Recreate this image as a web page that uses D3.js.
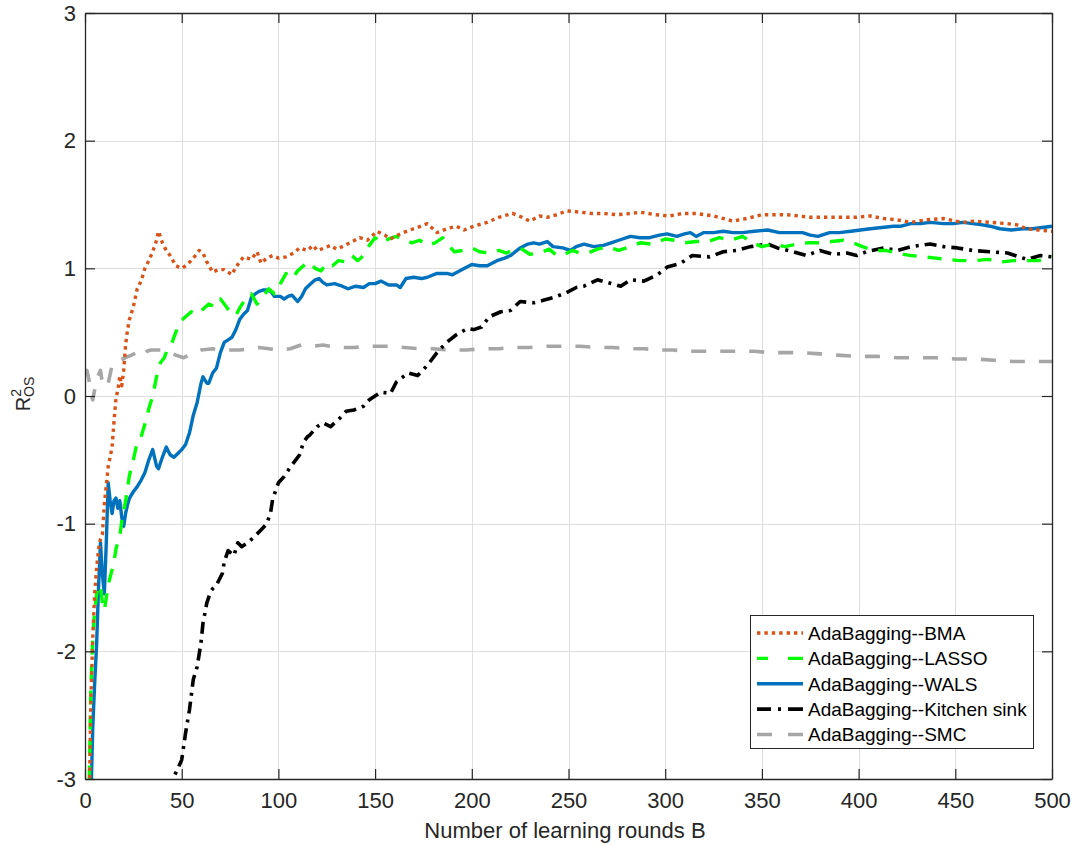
<!DOCTYPE html>
<html>
<head>
<meta charset="utf-8">
<script src="https://cdn.jsdelivr.net/npm/d3@7"></script>
<style>
  html, body { margin: 0; padding: 0; background: #fff; }
  svg { display: block; font-family: "Liberation Sans", Arial, Helvetica, sans-serif; }
</style>
</head>
<body>
<svg id="chart" width="1071" height="845"></svg>
<script>
// Out-of-sample R^2 against the number of learning rounds B, one series per method.
// Each entry is [B, R2_OS].
const bmaSeries = [[2,-3.4],[3,-2.4],[4,-1.9],[5,-1.55],[6,-1.35],[7,-1.2],[8,-1.12],[9,-1.08],[10,-0.85],[11,-0.7],[12,-0.55],[13,-0.48],[14,-0.4],[15,-0.2],[16,-0.02],[17,0.05],[18,0.16],[19,0.08],[20,0.2],[21,0.4],[22,0.52],[23,0.6],[25,0.7],[27,0.84],[29,0.9],[31,1.0],[33,1.06],[35,1.13],[37,1.22],[38,1.29],[40,1.2],[42,1.14],[44,1.1],[47,1.02],[50,1.0],[53,1.03],[56,1.08],[59,1.14],[61,1.12],[63,1.05],[66,0.97],[69,0.99],[72,0.99],[76,0.95],[78,1.01],[82,1.09],[86,1.07],[89,1.13],[91,1.04],[94,1.08],[97,1.1],[100,1.08],[104,1.09],[108,1.12],[111,1.16],[115,1.14],[118,1.18],[120,1.14],[124,1.16],[127,1.18],[130,1.15],[133,1.17],[137,1.2],[142,1.24],[146,1.22],[151,1.29],[155,1.26],[158,1.23],[163,1.27],[168,1.3],[172,1.32],[177,1.35],[182,1.28],[187,1.31],[192,1.33],[196,1.3],[201,1.33],[208,1.36],[214,1.4],[221,1.43],[226,1.4],[230,1.37],[235,1.41],[239,1.4],[244,1.42],[249,1.45],[256,1.44],[262,1.43],[268,1.43],[275,1.42],[283,1.43],[287,1.44],[295,1.42],[302,1.41],[309,1.43],[316,1.43],[325,1.41],[335,1.37],[342,1.39],[350,1.42],[357,1.42],[363,1.42],[369,1.41],[375,1.4],[382,1.4],[390,1.4],[399,1.4],[406,1.41],[413,1.39],[420,1.38],[427,1.36],[435,1.38],[444,1.39],[450,1.37],[454,1.36],[460,1.37],[468,1.36],[477,1.35],[482,1.34],[487,1.31],[493,1.3],[500,1.29]];

const lassoSeries = [[2,-3.2],[3,-2.3],[4,-1.9],[5,-1.68],[6,-1.55],[7,-1.48],[8,-1.5],[9,-1.62],[10,-1.68],[11,-1.58],[12,-1.48],[13,-1.42],[14,-1.36],[15,-1.3],[16,-1.2],[17,-1.14],[18,-1.1],[19,-0.98],[20,-0.9],[21,-0.82],[22,-0.72],[23,-0.62],[25,-0.5],[27,-0.36],[29,-0.32],[31,-0.22],[33,-0.1],[35,0.0],[37,0.15],[39,0.26],[41,0.3],[43,0.38],[45,0.42],[47,0.5],[49,0.58],[52,0.62],[55,0.66],[58,0.64],[61,0.68],[64,0.72],[67,0.7],[70,0.76],[72,0.72],[75,0.66],[78,0.63],[80,0.69],[83,0.76],[86,0.8],[89,0.72],[92,0.78],[95,0.84],[98,0.8],[101,0.88],[104,0.96],[107,0.92],[110,0.98],[113,1.02],[116,1.05],[119,1.0],[122,0.98],[125,1.04],[128,1.02],[131,1.06],[135,1.05],[138,1.1],[141,1.06],[144,1.1],[147,1.18],[150,1.24],[153,1.2],[157,1.23],[161,1.25],[165,1.22],[169,1.2],[173,1.22],[177,1.18],[181,1.2],[185,1.24],[188,1.18],[191,1.13],[195,1.14],[200,1.16],[204,1.13],[209,1.12],[214,1.14],[218,1.12],[222,1.15],[226,1.15],[230,1.11],[235,1.12],[240,1.15],[244,1.1],[248,1.11],[252,1.14],[256,1.12],[260,1.12],[265,1.15],[270,1.17],[276,1.14],[282,1.17],[287,1.2],[293,1.19],[300,1.23],[305,1.22],[310,1.2],[316,1.21],[322,1.21],[328,1.24],[334,1.22],[340,1.25],[345,1.2],[350,1.17],[356,1.19],[362,1.17],[368,1.19],[374,1.2],[380,1.2],[386,1.21],[392,1.22],[397,1.2],[402,1.17],[408,1.14],[414,1.14],[420,1.12],[427,1.1],[434,1.09],[440,1.08],[446,1.07],[452,1.06],[460,1.06],[467,1.07],[474,1.05],[480,1.06],[487,1.06],[493,1.06],[500,1.09]];

const walsSeries = [[3,-3.2],[4,-2.6],[5,-2.25],[6,-1.95],[7,-1.5],[8,-1.15],[9,-1.4],[10,-1.55],[11,-1.15],[12,-0.68],[13,-0.82],[14,-0.92],[15,-0.82],[16,-0.8],[17,-0.88],[18,-0.82],[19,-0.95],[20,-1.02],[21,-0.92],[22,-0.85],[23,-0.8],[25,-0.75],[27,-0.71],[29,-0.66],[31,-0.6],[33,-0.5],[35,-0.42],[37,-0.55],[38,-0.57],[40,-0.48],[42,-0.4],[44,-0.46],[46,-0.48],[48,-0.45],[50,-0.42],[52,-0.38],[54,-0.29],[56,-0.15],[58,-0.05],[60,0.1],[61,0.15],[63,0.1],[64,0.1],[66,0.18],[68,0.22],[70,0.34],[72,0.42],[74,0.44],[76,0.46],[78,0.52],[80,0.6],[82,0.64],[84,0.67],[86,0.77],[88,0.8],[90,0.82],[92,0.83],[94,0.83],[96,0.82],[98,0.78],[101,0.78],[103,0.76],[105,0.78],[107,0.79],[110,0.74],[112,0.78],[114,0.84],[116,0.87],[119,0.91],[121,0.92],[123,0.89],[125,0.87],[129,0.88],[133,0.86],[136,0.84],[140,0.86],[144,0.85],[147,0.88],[150,0.88],[153,0.9],[157,0.87],[161,0.87],[163,0.85],[166,0.92],[170,0.93],[174,0.92],[177,0.93],[182,0.96],[187,0.96],[190,0.95],[195,0.99],[200,1.03],[204,1.02],[208,1.02],[213,1.06],[217,1.08],[220,1.1],[225,1.16],[229,1.19],[232,1.2],[235,1.19],[239,1.21],[242,1.17],[247,1.16],[251,1.14],[254,1.17],[258,1.19],[263,1.17],[268,1.18],[272,1.2],[276,1.22],[282,1.25],[287,1.24],[292,1.24],[297,1.26],[301,1.27],[306,1.25],[310,1.27],[313,1.28],[316,1.25],[320,1.28],[325,1.28],[330,1.29],[335,1.28],[340,1.28],[346,1.29],[353,1.3],[359,1.28],[365,1.28],[371,1.28],[375,1.26],[379,1.25],[385,1.28],[390,1.28],[396,1.29],[401,1.3],[406,1.31],[412,1.32],[418,1.33],[422,1.33],[427,1.35],[432,1.35],[437,1.36],[444,1.35],[449,1.35],[454,1.36],[459,1.35],[464,1.34],[468,1.33],[473,1.31],[479,1.3],[485,1.31],[490,1.31],[495,1.32],[500,1.33]];

const kitchenSinkSeries = [[44,-3.1],[46,-2.98],[47,-2.95],[48,-2.92],[50,-2.85],[52,-2.64],[54,-2.46],[56,-2.22],[58,-2.12],[60,-1.93],[61,-1.78],[63,-1.62],[65,-1.53],[66,-1.51],[68,-1.48],[71,-1.39],[72,-1.3],[74,-1.21],[77,-1.25],[79,-1.15],[81,-1.18],[84,-1.15],[87,-1.11],[91,-1.05],[94,-1.0],[96,-0.91],[97,-0.81],[100,-0.68],[103,-0.63],[106,-0.56],[109,-0.5],[111,-0.46],[113,-0.36],[115,-0.32],[116,-0.31],[120,-0.24],[123,-0.21],[127,-0.24],[132,-0.17],[135,-0.12],[139,-0.11],[144,-0.08],[147,-0.03],[153,0.03],[158,0.02],[161,0.11],[167,0.18],[172,0.16],[177,0.24],[182,0.34],[187,0.42],[192,0.48],[198,0.53],[201,0.52],[205,0.54],[209,0.62],[215,0.66],[220,0.67],[225,0.74],[232,0.73],[237,0.75],[242,0.77],[249,0.81],[254,0.85],[258,0.86],[265,0.91],[270,0.89],[277,0.86],[282,0.91],[289,0.9],[296,0.95],[301,1.01],[308,1.04],[314,1.1],[323,1.09],[330,1.13],[337,1.14],[344,1.17],[353,1.19],[358,1.16],[366,1.13],[373,1.1],[380,1.14],[387,1.11],[394,1.12],[399,1.1],[404,1.13],[413,1.16],[420,1.14],[427,1.17],[437,1.19],[444,1.17],[451,1.16],[459,1.14],[468,1.13],[477,1.12],[487,1.07],[494,1.1],[500,1.09]];

const smcSeries = [[0,0.18],[1,0.2],[2,0.13],[3,0.02],[4,-0.03],[5,0.05],[6,0.13],[8,0.2],[9,0.1],[10,0.07],[12,0.1],[14,0.24],[16,0.27],[18,0.28],[21,0.3],[24,0.32],[27,0.34],[29,0.31],[32,0.35],[34,0.36],[37,0.36],[40,0.36],[44,0.34],[47,0.32],[51,0.3],[55,0.33],[60,0.36],[66,0.37],[70,0.36],[75,0.36],[80,0.36],[85,0.37],[90,0.38],[95,0.37],[100,0.36],[106,0.37],[112,0.4],[118,0.39],[123,0.4],[130,0.38],[139,0.38],[148,0.39],[156,0.39],[165,0.38],[173,0.37],[180,0.37],[189,0.36],[197,0.36],[206,0.37],[214,0.37],[221,0.38],[230,0.38],[239,0.39],[248,0.39],[256,0.39],[265,0.38],[273,0.38],[281,0.37],[289,0.37],[297,0.36],[304,0.36],[313,0.35],[322,0.35],[330,0.35],[337,0.35],[346,0.35],[354,0.34],[362,0.34],[371,0.34],[380,0.33],[389,0.32],[400,0.31],[410,0.31],[420,0.3],[430,0.3],[440,0.3],[450,0.29],[460,0.29],[470,0.28],[480,0.27],[490,0.27],[500,0.27]];

const seriesNames = ["AdaBagging--BMA", "AdaBagging--LASSO", "AdaBagging--WALS", "AdaBagging--Kitchen sink", "AdaBagging--SMC"];
const xTicks = [0, 50, 100, 150, 200, 250, 300, 350, 400, 450, 500];
const yTicks = [-3, -2, -1, 0, 1, 2, 3];

// Drawing styles, in legend order.
const styles = [
  { data: bmaSeries,         color: "#D95319", width: 3.4, dash: "3.4,4",        legendDash: "3.4,4" },
  { data: lassoSeries,       color: "#00FF00", width: 3.4, dash: "14,11",        legendDash: "11,20,15" },
  { data: walsSeries,        color: "#0072BD", width: 3.4, dash: null,           legendDash: null },
  { data: kitchenSinkSeries, color: "#000000", width: 3.6, dash: "12,6,3,6",     legendDash: "14,7,3,7,15" },
  { data: smcSeries,         color: "#A6A6A6", width: 3.6, dash: "15,14",        legendDash: "15,16,15" }
];

const plot = { left: 85, right: 1052, top: 13, bottom: 779 };
const ink = "#262626";
const fontFamily = "'Liberation Sans', Arial, Helvetica, sans-serif";

const svg = d3.select("#chart");
const x = d3.scaleLinear().domain([0, 500]).range([plot.left, plot.right]);
const y = d3.scaleLinear().domain([-3, 3]).range([plot.bottom, plot.top]);

// Grid
const grid = svg.append("g").attr("stroke", "#dedede").attr("stroke-width", 1);
grid.selectAll("line.gx").data(xTicks.slice(1, -1)).join("line")
  .attr("x1", d => Math.round(x(d)) + 0.5).attr("x2", d => Math.round(x(d)) + 0.5)
  .attr("y1", plot.top).attr("y2", plot.bottom);
grid.selectAll("line.gy").data(yTicks.slice(1, -1)).join("line")
  .attr("y1", d => Math.round(y(d)) + 0.5).attr("y2", d => Math.round(y(d)) + 0.5)
  .attr("x1", plot.left).attr("x2", plot.right);

// Series, clipped to the axes box
svg.append("clipPath").attr("id", "plotClip").append("rect")
  .attr("x", plot.left).attr("y", plot.top)
  .attr("width", plot.right - plot.left).attr("height", plot.bottom - plot.top);

const line = d3.line().x(d => x(d[0])).y(d => y(d[1]));
const seriesG = svg.append("g").attr("clip-path", "url(#plotClip)");
[4, 3, 2, 1, 0].forEach(i => {
  const s = styles[i];
  seriesG.append("path")
    .datum(s.data)
    .attr("fill", "none")
    .attr("stroke", s.color)
    .attr("stroke-width", s.width)
    .attr("stroke-linejoin", "round")
    .attr("stroke-dasharray", s.dash)
    .attr("d", line);
});

// Axes: ticks point inward, box closed on all four sides
const fontSize = 22;
const fmt = d => (d < 0 ? "-" + (-d) : String(d));
const xAxisBottom = d3.axisBottom(x).tickValues(xTicks).tickSizeInner(-10).tickSizeOuter(0).tickPadding(13).tickFormat(fmt);
const xAxisTop = d3.axisTop(x).tickValues(xTicks).tickSizeInner(-10).tickSizeOuter(0).tickFormat("");
const yAxisLeft = d3.axisLeft(y).tickValues(yTicks).tickSizeInner(-10).tickSizeOuter(0).tickPadding(9).tickFormat(fmt);
const yAxisRight = d3.axisRight(y).tickValues(yTicks).tickSizeInner(-10).tickSizeOuter(0).tickFormat("");

function styleAxis(g) {
  g.select(".domain").attr("stroke", ink).attr("stroke-width", 1.3);
  g.selectAll(".tick line").attr("stroke", ink).attr("stroke-width", 1.2);
  g.selectAll(".tick text").attr("fill", ink).attr("font-size", fontSize)
    .attr("font-family", fontFamily);
}

svg.append("g").attr("transform", `translate(0,${plot.bottom})`).call(xAxisBottom).call(styleAxis);
svg.append("g").attr("transform", `translate(0,${plot.top})`).call(xAxisTop).call(styleAxis);
svg.append("g").attr("transform", `translate(${plot.left},0)`).call(yAxisLeft).call(styleAxis);
svg.append("g").attr("transform", `translate(${plot.right},0)`).call(yAxisRight).call(styleAxis);

// Axis titles
svg.append("text")
  .attr("x", 565).attr("y", 838)
  .attr("text-anchor", "middle").attr("font-size", 22).attr("fill", ink)
  .text("Number of learning rounds B");

const yTitle = svg.append("text")
  .attr("transform", "translate(30,394) rotate(-90)")
  .attr("text-anchor", "middle").attr("fill", ink).attr("font-size", 20);
yTitle.append("tspan").text("R");
yTitle.append("tspan").attr("font-size", 14).attr("dy", -9).text("2");
yTitle.append("tspan").attr("font-size", 14).attr("dx", -8).attr("dy", 13).text("OS");

// Legend
const legend = { left: 750, top: 615, width: 283, height: 133 };
const lg = svg.append("g");
lg.append("rect")
  .attr("x", legend.left + 0.5).attr("y", legend.top + 0.5)
  .attr("width", legend.width).attr("height", legend.height)
  .attr("fill", "#fff").attr("stroke", ink).attr("stroke-width", 1);
const rowY = d3.scaleLinear().domain([0, 4]).range([633, 734.5]);
styles.forEach((s, i) => {
  const yy = rowY(i);
  lg.append("line")
    .attr("x1", 757).attr("x2", 803).attr("y1", yy).attr("y2", yy)
    .attr("stroke", s.color).attr("stroke-width", s.width)
    .attr("stroke-dasharray", s.legendDash);
  lg.append("text")
    .attr("x", 808).attr("y", yy).attr("dy", "0.36em")
    .attr("font-size", 19).attr("fill", "#000")
    .text(seriesNames[i]);
});
</script>
</body>
</html>
